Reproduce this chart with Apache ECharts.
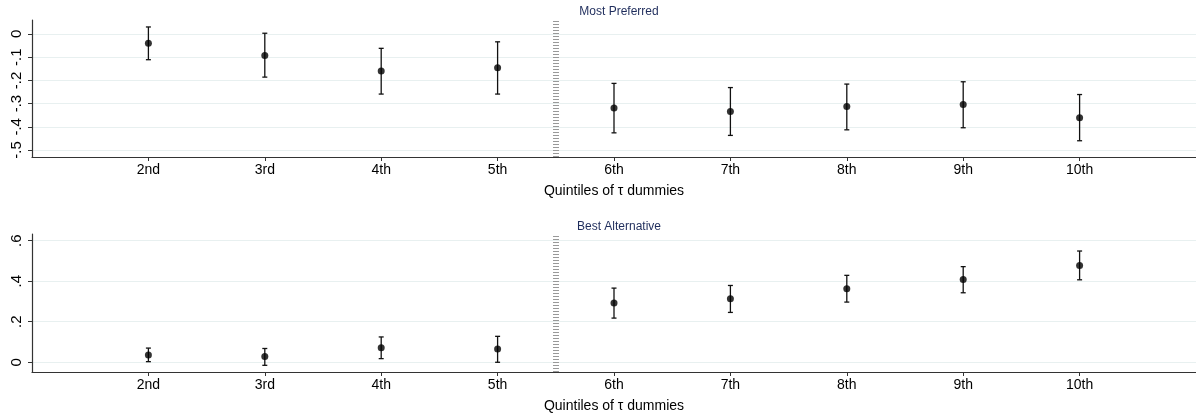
<!DOCTYPE html>
<html>
<head>
<meta charset="utf-8">
<script src="https://cdn.jsdelivr.net/npm/echarts@6/dist/echarts.min.js"></script>
<style>
  html, body { margin: 0; padding: 0; background: #fff; }
  #chart { width: 1196px; height: 415px; }
</style>
</head>
<body>
<div id="chart"></div>
<script>
// x positions of the dummies and their labels
const positions = [2, 3, 4, 5, 6, 7, 8, 9, 10];
const tickLabels = ['2nd', '3rd', '4th', '5th', '6th', '7th', '8th', '9th', '10th'];

// Most Preferred: estimate + CI
const mpEst = [-0.040, -0.093, -0.160, -0.146, -0.319, -0.334, -0.313, -0.304, -0.361];
const mpLo = [-0.111, -0.186, -0.259, -0.259, -0.426, -0.437, -0.413, -0.404, -0.460];
const mpHi = [0.030, 0.003, -0.062, -0.034, -0.213, -0.231, -0.216, -0.206, -0.261];

// Best Alternative: estimate + CI
const baEst = [0.036, 0.028, 0.072, 0.065, 0.292, 0.314, 0.363, 0.409, 0.478];
const baLo = [0.003, -0.015, 0.018, 0.000, 0.218, 0.246, 0.297, 0.343, 0.407];
const baHi = [0.070, 0.068, 0.125, 0.128, 0.366, 0.379, 0.429, 0.472, 0.549];

const mpTicks = [-0.5, -0.4, -0.3, -0.2, -0.1, 0];
const baTicks = [0, 0.2, 0.4, 0.6];
const cutoff = 5.5;

const FONT = 'Liberation Sans, Arial, sans-serif';

function fmtY(v) {
  if (Math.abs(v) < 1e-9) return '0';
  return String(Math.round(v * 10) / 10).replace('0.', '.');
}

function xAxisFor(gridIndex) {
  return {
    type: 'value',
    gridIndex: gridIndex,
    min: 1,
    max: 11,
    interval: 1,
    name: 'Quintiles of \u03c4 dummies',
    nameLocation: 'middle',
    nameGap: 27,
    nameTextStyle: { color: '#000', fontSize: 14, fontFamily: FONT },
    axisLine: { onZero: false, lineStyle: { color: '#333', width: 1.2 } },
    axisTick: { customValues: positions, length: 4, lineStyle: { color: '#333' } },
    axisLabel: {
      customValues: positions,
      color: '#000',
      fontSize: 14,
      fontFamily: FONT,
      margin: 6,
      formatter: (v) => {
        let i = positions.indexOf(v);
        return i >= 0 ? tickLabels[i] : '';
      },
    },
    splitLine: { show: false },
  };
}

function yAxisFor(gridIndex, min, max, ticks) {
  return {
    type: 'value',
    gridIndex: gridIndex,
    min: min,
    max: max,
    axisLine: { show: true, onZero: false, lineStyle: { color: '#333', width: 1.2 } },
    axisTick: { show: true, customValues: ticks, length: 4, lineStyle: { color: '#333' } },
    axisLabel: {
      customValues: ticks,
      rotate: 90,
      color: '#000',
      fontSize: 15,
      fontFamily: FONT,
      margin: 8,
      formatter: fmtY,
    },
    splitLine: { show: true, lineStyle: { color: '#e8f0f0', width: 1.2 } },
  };
}

function ciSeries(idx, lo, hi) {
  return {
    type: 'custom',
    xAxisIndex: idx,
    yAxisIndex: idx,
    data: positions.map((p, i) => [p, lo[i], hi[i]]),
    renderItem: (params, api) => {
      let lowP = api.coord([api.value(0), api.value(1)]);
      let highP = api.coord([api.value(0), api.value(2)]);
      let cap = 2.5;
      let style = { stroke: '#111', lineWidth: 1.3 };
      return {
        type: 'group',
        children: [
          { type: 'line', shape: { x1: lowP[0], y1: lowP[1], x2: highP[0], y2: highP[1] }, style: style },
          { type: 'line', shape: { x1: lowP[0] - cap, y1: lowP[1], x2: lowP[0] + cap, y2: lowP[1] }, style: style },
          { type: 'line', shape: { x1: highP[0] - cap, y1: highP[1], x2: highP[0] + cap, y2: highP[1] }, style: style },
        ],
      };
    },
    z: 3,
  };
}

function pointSeries(idx, est) {
  return {
    type: 'scatter',
    xAxisIndex: idx,
    yAxisIndex: idx,
    symbol: 'circle',
    symbolSize: 7,
    itemStyle: { color: '#000' },
    data: positions.map((p, i) => [p, est[i]]),
    z: 4,
    markLine: {
      silent: true,
      symbol: 'none',
      label: { show: false },
      lineStyle: { color: '#999', width: 6, type: [1, 2] },
      data: [{ xAxis: cutoff }],
      animation: false,
    },
  };
}

let chart = echarts.init(document.getElementById('chart'));
let option = {
  animation: false,
  backgroundColor: '#fff',
  title: [
    { text: 'Most Preferred', left: 614, top: 1, textAlign: 'center',
      textStyle: { color: '#1f2d5c', fontSize: 12, fontWeight: 'normal', fontFamily: FONT } },
    { text: 'Best Alternative', left: 614, top: 216, textAlign: 'center',
      textStyle: { color: '#1f2d5c', fontSize: 12, fontWeight: 'normal', fontFamily: FONT } },
  ],
  grid: [
    { left: 32, right: 0, top: 20, height: 137 },
    { left: 32, right: 0, top: 234, height: 138 },
  ],
  xAxis: [xAxisFor(0), xAxisFor(1)],
  yAxis: [
    yAxisFor(0, -0.53, 0.06, mpTicks),
    yAxisFor(1, -0.048, 0.633, baTicks),
  ],
  series: [
    ciSeries(0, mpLo, mpHi),
    pointSeries(0, mpEst),
    ciSeries(1, baLo, baHi),
    pointSeries(1, baEst),
  ],
};
chart.setOption(option);
</script>
</body>
</html>
